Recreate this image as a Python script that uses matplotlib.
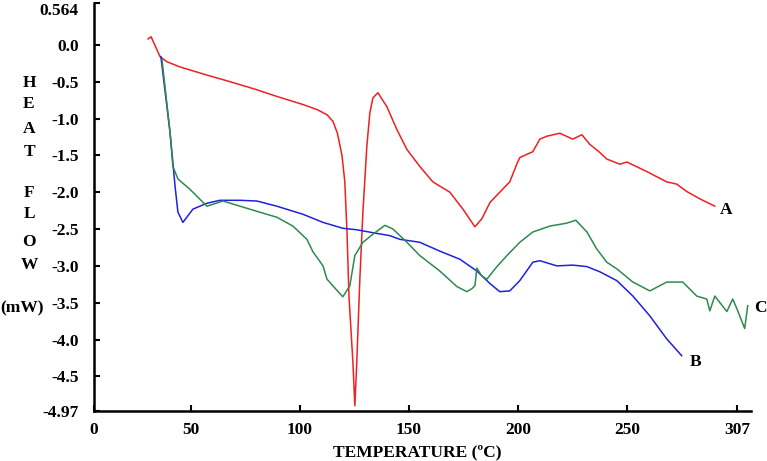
import matplotlib
matplotlib.use('Agg')
import matplotlib.pyplot as plt

# curve A (red)
temp_a = [30.3, 31.7, 35.8, 39.0, 45.0, 57.3, 67.9, 80.3, 89.4, 101.4, 108.0, 112.5, 115.2,
          117.2, 119.3, 120.6, 121.6, 122.5, 124.3, 125.2, 126.1, 127.5, 128.9, 130.7, 132.1,
          133.5, 135.8, 139.9, 144.5, 149.1, 155.0, 161.0, 168.8, 174.8, 180.3, 183.5, 187.2,
          191.7, 196.3, 199.5, 200.9, 206.9, 210.1, 213.3, 219.3, 225.2, 229.4, 233.0, 237.6,
          240.8, 246.8, 250.0, 259.2, 268.3, 272.9, 277.5, 283.5, 290.4]
flow_a = [0.08, 0.11, -0.16, -0.23, -0.30, -0.41, -0.50, -0.61, -0.70, -0.81, -0.88, -0.95, -1.04,
          -1.20, -1.50, -1.86, -2.54, -3.41, -4.30, -4.90, -4.30, -3.18, -2.27, -1.38, -0.92,
          -0.72, -0.65, -0.84, -1.15, -1.42, -1.65, -1.86, -2.00, -2.23, -2.47, -2.36, -2.14,
          -2.00, -1.86, -1.62, -1.53, -1.45, -1.28, -1.24, -1.20, -1.28, -1.22, -1.35, -1.46,
          -1.55, -1.62, -1.59, -1.72, -1.86, -1.89, -1.99, -2.09, -2.19]

# curve B (blue)
temp_b = [36.2, 40.4, 42.7, 44.0, 46.3, 50.9, 57.3, 63.3, 72.5, 80.3, 89.4, 101.4, 110.6,
          119.7, 126.1, 133.5, 141.3, 145.9, 155.0, 164.2, 173.4, 181.2, 187.2, 191.7, 196.3,
          200.9, 206.9, 210.1, 217.9, 225.2, 231.7, 237.6, 245.4, 252.8, 260.6, 268.3, 275.2]
flow_b = [-0.16, -1.19, -1.92, -2.27, -2.41, -2.23, -2.15, -2.11, -2.11, -2.12, -2.19, -2.30, -2.41,
          -2.49, -2.51, -2.55, -2.59, -2.64, -2.68, -2.80, -2.91, -3.07, -3.24, -3.35, -3.34,
          -3.20, -2.95, -2.93, -3.00, -2.99, -3.01, -3.08, -3.20, -3.41, -3.68, -3.99, -4.22]

# curve C (green)
temp_c = [36.7, 40.4, 41.7, 44.0, 49.5, 57.3, 64.7, 72.5, 80.3, 89.4, 96.8, 103.2, 106.0,
          110.6, 112.4, 115.1, 119.7, 122.9, 125.2, 128.9, 133.5, 139.0, 142.7, 149.1, 155.0,
          164.2, 172.0, 176.6, 178.9, 180.3, 181.2, 183.5, 185.8, 190.4, 195.0, 200.9, 206.9,
          214.7, 222.5, 226.6, 231.7, 236.2, 240.8, 245.4, 252.8, 260.6, 268.3, 275.7, 282.1,
          286.7, 288.1, 290.4, 295.9, 298.6, 300.5, 304.1, 305.5]
flow_c = [-0.20, -1.19, -1.65, -1.82, -1.96, -2.19, -2.12, -2.19, -2.26, -2.34, -2.46, -2.64, -2.81,
          -3.00, -3.18, -3.27, -3.42, -3.27, -2.86, -2.68, -2.57, -2.45, -2.50, -2.68, -2.86,
          -3.07, -3.28, -3.35, -3.31, -3.27, -3.03, -3.14, -3.18, -3.01, -2.86, -2.68, -2.54,
          -2.46, -2.42, -2.38, -2.54, -2.77, -2.95, -3.04, -3.22, -3.34, -3.22, -3.22, -3.41,
          -3.45, -3.61, -3.41, -3.62, -3.45, -3.58, -3.85, -3.54]

x_tick_pos = [5.5, 50, 100, 150, 200, 250, 300.6]
x_tick_labels = ['0', '50', '100', '150', '200', '250', '307']
y_ticks = [0.564, 0.0, -0.5, -1.0, -1.5, -2.0, -2.5, -3.0, -3.5, -4.0, -4.5, -4.97]
y_tick_labels = ['0.564', '0.0', '-0.5', '-1.0', '-1.5', '-2.0', '-2.5', '-3.0', '-3.5',
                 '-4.0', '-4.5', '-4.97']

plt.rcParams['font.family'] = ['Liberation Serif', 'DejaVu Serif']
plt.rcParams['font.weight'] = 'bold'

fig = plt.figure(figsize=(7.67, 4.61), dpi=100)
ax = fig.add_axes([94 / 767, 1 - 411 / 461, (751 - 94) / 767, (411 - 3.3) / 461])

ax.plot(temp_a, flow_a, color='#f02020', lw=1.1)
ax.plot(temp_b, flow_b, color='#2020e0', lw=1.1)
ax.plot(temp_c, flow_c, color='#2e8a4e', lw=1.1)

ax.set_xlim(5.5, 307)
ax.set_ylim(-4.97, 0.564)
ax.set_xticks(x_tick_pos)
ax.set_xticklabels(x_tick_labels)
ax.set_yticks(y_ticks)
ax.set_yticklabels(y_tick_labels)
ax.tick_params(direction='in', length=4, width=1.5, labelsize=12.5)
ax.tick_params(axis='x', pad=8)
ax.tick_params(axis='y', pad=11)
ax.get_yticklabels()[0].set_va('top')
for s in ['top', 'right']:
    ax.spines[s].set_visible(False)
for s in ['left', 'bottom']:
    ax.spines[s].set_linewidth(1.8)

# curve labels
ax.text(292.9, -2.24, 'A', fontsize=12.5, fontweight='bold', va='center', ha='left')
ax.text(279.0, -4.30, 'B', fontsize=12.5, fontweight='bold', va='center', ha='left')
ax.text(308.3, -3.57, 'C', fontsize=12.5, fontweight='bold', va='center', ha='left')

fig.text(417 / 767, 1 - 452 / 461, 'TEMPERATURE (\u00baC)', fontsize=12.5, fontweight='bold',
         ha='center', va='center')

# stacked y label
ylab = [('H', 83), ('E', 104), ('A', 129), ('T', 152),
        ('F', 193), ('L', 214), ('O', 242), ('W', 265)]
for ch, py in ylab:
    fig.text(29 / 767, 1 - py / 461, ch, fontsize=12.5, fontweight='bold', ha='center', va='center')
fig.text(22 / 767, 1 - 308 / 461, '(mW)', fontsize=12.5, fontweight='bold', ha='center', va='center')

fig.savefig('out.png', dpi=100, facecolor='white')
